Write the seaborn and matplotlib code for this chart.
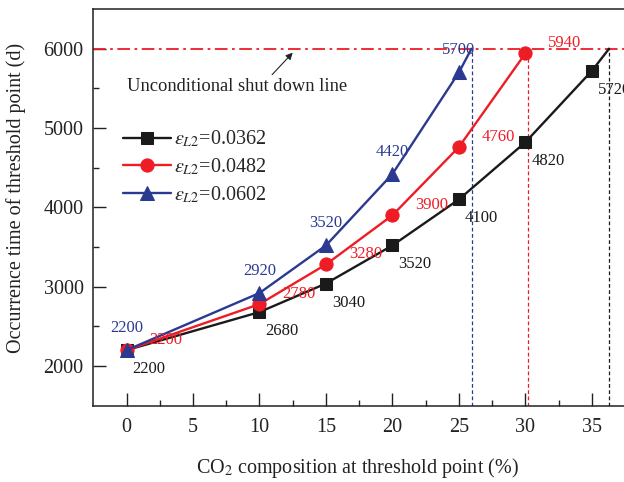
import matplotlib
matplotlib.use("Agg")
import matplotlib.pyplot as plt
import seaborn as sns
import pandas as pd

# CO2 composition (%) at the threshold point and occurrence time (d)
co2_a = [0, 10, 15, 20, 25, 30, 35]
days_a = [2200, 2680, 3040, 3520, 4100, 4820, 5720]
co2_b = [0, 10, 15, 20, 25, 30]
days_b = [2200, 2780, 3280, 3900, 4760, 5940]
co2_c = [0, 10, 15, 20, 25]
days_c = [2200, 2920, 3520, 4420, 5700]

eps_values = ["0.0362", "0.0482", "0.0602"]
# CO2 composition at which each curve reaches the shut down line
shutdown_co2 = [36.3, 30.2, 25.95]
shutdown_days = 6000

x_ticks = [0, 5, 10, 15, 20, 25, 30, 35]
y_ticks = [2000, 3000, 4000, 5000, 6000]

sns.set_theme(style="ticks")
plt.rcParams["font.family"] = ["Liberation Serif", "DejaVu Serif"]
plt.rcParams["mathtext.fontset"] = "stix"

colors = ["#1a1a1a", "#ee1c25", "#2b3990"]
markers = ["s", "o", "^"]
msizes = [8, 9.5, 10]

fig = plt.figure(figsize=(6.24, 4.82), dpi=100)
ax = fig.add_axes([93.3 / 624, 1 - 405.7 / 482, 565 / 624, 396.7 / 482])

series = [(co2_a, days_a), (co2_b, days_b), (co2_c, days_c)]
for (xs, ys), eps, col, mk, ms in zip(series, eps_values, colors, markers, msizes):
    df = pd.DataFrame({"co2": xs, "days": ys})
    sns.lineplot(data=df, x="co2", y="days", ax=ax, color=col, marker=mk,
                 markersize=ms, markeredgecolor=col, linewidth=1.7,
                 label=r"$\varepsilon_{L\mathit{2}}$=" + eps, zorder=3)

# extensions of the black and blue curves up to the shut down line
ext = [(co2_a[-1], days_a[-1], shutdown_co2[0], colors[0]),
       (co2_c[-1], days_c[-1], shutdown_co2[2], colors[2])]
for x0, y0, x1, col in ext:
    sns.lineplot(x=[x0, x1], y=[y0, shutdown_days], ax=ax, color=col,
                 linewidth=1.7, legend=False, zorder=3)

# value labels
lab_fs = 12
for x, y in zip(co2_a, days_a):
    ax.annotate(f"{y}", (x, y), xytext=(6, -19), textcoords="offset pixels",
                ha="left", va="center", fontsize=lab_fs, color=colors[0], zorder=5)
for x, y in zip(co2_b, days_b):
    ax.annotate(f"{y}", (x, y), xytext=(23, 10), textcoords="offset pixels",
                ha="left", va="center", fontsize=lab_fs, color=colors[1], zorder=5)
for x, y in zip(co2_c, days_c):
    ax.annotate(f"{y}", (x, y), xytext=(0, 22), textcoords="offset pixels",
                ha="center", va="center", fontsize=lab_fs, color=colors[2], zorder=5)

# unconditional shut down line
ax.axhline(shutdown_days, color="#ee1c25", linewidth=1.3,
           linestyle=(0, (7, 2.5, 1.5, 2.5)), zorder=2)
for xv, col in zip(shutdown_co2, colors):
    ax.plot([xv, xv], [1500, shutdown_days], color=col, linewidth=0.9,
            linestyle=(0, (3, 2)), zorder=2)

ax.text(0, 5524, "Unconditional shut down line", ha="left", va="center",
        fontsize=13.3, color="#222222")
ax.annotate("", xy=(12.5, 5950), xytext=(10.95, 5672),
            arrowprops=dict(arrowstyle="-|>", color="#222222", lw=0.8,
                            shrinkA=0, shrinkB=0, mutation_scale=10))

ax.set_xlim(-2.5, 40)
ax.set_ylim(1500, 6500)
ax.set_xticks(x_ticks)
ax.set_yticks(y_ticks)
ax.set_xticks([v + 2.5 for v in x_ticks], minor=True)
ax.set_yticks([v + 500 for v in [1500] + y_ticks][:-1], minor=True)
ax.tick_params(which="major", direction="in", length=9.5, width=1.0,
               labelsize=14.5, color="#222222", labelcolor="#222222")
ax.tick_params(which="minor", direction="in", length=4.5, width=1.0,
               color="#222222")
ax.tick_params(axis="x", which="major", pad=9)
ax.tick_params(axis="y", which="major", pad=7)
for s in ax.spines.values():
    s.set_linewidth(1.1)
    s.set_color("#222222")

ax.set_xlabel("CO$_2$ composition at threshold point (%)", fontsize=14.5,
              color="#222222")
ax.set_ylabel("Occurrence time of threshold point (d)", fontsize=14.5,
              color="#222222")
ax.xaxis.set_label_coords(0.4676, -0.128)
ax.yaxis.set_label_coords(-0.119, 0.5236)

handles, labels = ax.get_legend_handles_labels()
ax.legend(handles[:3], labels[:3], loc="upper left",
          bbox_to_anchor=(0.0526, 0.6975), frameon=False, fontsize=14.5,
          handlelength=2.4, handletextpad=0.15, labelspacing=0.35,
          borderpad=0, borderaxespad=0)

fig.savefig("out.png", dpi=100)
